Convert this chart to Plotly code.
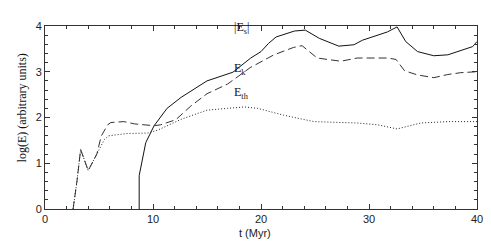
import plotly.graph_objects as go

# |E_s| (solid)
t_s = [8.72, 8.72, 9.33, 10.1, 11.3, 12.6, 13.8, 15.0, 17.4, 19.05, 20.0, 20.7, 21.4, 23.1, 24.1, 25.4, 27.2, 28.6, 29.4, 30.8, 31.7, 32.6, 33.4, 34.5, 36.0, 37.3, 38.8, 39.6, 40]
e_s = [0, 0.73, 1.45, 1.82, 2.2, 2.44, 2.62, 2.8, 2.99, 3.3, 3.44, 3.62, 3.76, 3.89, 3.91, 3.73, 3.56, 3.59, 3.69, 3.81, 3.87, 3.98, 3.66, 3.44, 3.35, 3.37, 3.48, 3.55, 3.66]
# E_k (dashed)
t_k = [2.6, 2.95, 3.3, 4.0, 4.8, 5.2, 5.8, 6.1, 7.3, 8.3, 10.1, 10.7, 12.1, 13.5, 15.0, 16.9, 19.0, 21.2, 23.0, 23.8, 25.2, 27.4, 28.9, 31.7, 32.5, 33.3, 34.5, 36.0, 37.3, 38.5, 40]
e_k = [0, 0.59, 1.3, 0.84, 1.2, 1.59, 1.84, 1.89, 1.91, 1.86, 1.82, 1.84, 1.95, 2.25, 2.52, 2.73, 3.09, 3.37, 3.53, 3.57, 3.3, 3.23, 3.3, 3.3, 3.27, 3.02, 2.93, 2.87, 2.94, 2.98, 3.0]
# E_th (dotted)
t_th = [2.6, 2.95, 3.3, 4.0, 4.8, 5.5, 5.9, 7.6, 9.5, 10.4, 12.6, 15.0, 16.9, 18.5, 19.7, 22.1, 24.9, 28.9, 30.8, 32.6, 34.8, 37.3, 40]
e_th = [0, 0.59, 1.3, 0.84, 1.2, 1.52, 1.6, 1.65, 1.66, 1.72, 1.96, 2.16, 2.2, 2.23, 2.2, 2.05, 1.91, 1.88, 1.84, 1.75, 1.88, 1.91, 1.91]

labels = ["|E<sub>s</sub>|", "E<sub>k</sub>", "E<sub>th</sub>"]
label_t = [17.3, 17.3, 17.3]
label_y = [3.95, 3.07, 2.53]

x_ticks = [0, 10, 20, 30, 40]
y_ticks = [0, 1, 2, 3, 4]

fig = go.Figure()
fig.add_trace(go.Scatter(x=t_s, y=e_s, mode="lines", line=dict(color="#111", width=1)))
fig.add_trace(go.Scatter(x=t_k, y=e_k, mode="lines", line=dict(color="#333", width=1, dash="8px,4px")))
fig.add_trace(go.Scatter(x=t_th, y=e_th, mode="lines", line=dict(color="#222", width=1, dash="1px,2px")))

for txt, tx, ty in zip(labels, label_t, label_y):
    fig.add_annotation(x=tx, y=ty, text=txt, showarrow=False, xanchor="left",
                       font=dict(family="Liberation Serif", size=12, color="#111"))

# axis titles
fig.add_annotation(xref="paper", yref="y", x=-0.053, y=2.2, xanchor="center", yanchor="middle",
                   text="log(E) (arbitrary units)", textangle=-90, showarrow=False,
                   font=dict(family="Liberation Serif", size=12, color="#111"))
fig.add_annotation(xref="x", yref="paper", x=19.4, y=-0.13, xanchor="center", yanchor="middle",
                   text="t (Myr)", showarrow=False,
                   font=dict(family="Liberation Sans", size=11, color="#222"))

axis_common = dict(showline=True, linecolor="#333", linewidth=1, mirror="allticks",
                   ticks="inside", ticklen=5, tickcolor="#333", showgrid=False, zeroline=False,
                   tickfont=dict(family="Liberation Sans", size=11, color="#222"))

fig.update_xaxes(range=[0, 40], tickvals=x_ticks,
                 minor=dict(dtick=2, ticks="inside", ticklen=3, tickcolor="#333"),
                 **axis_common)
fig.update_yaxes(range=[0, 4], tickvals=y_ticks,
                 minor=dict(dtick=0.2, ticks="inside", ticklen=3, tickcolor="#333"),
                 **axis_common)

fig.update_layout(width=491, height=249, showlegend=False,
                  margin=dict(l=37, r=22, t=14, b=48),
                  plot_bgcolor="white", paper_bgcolor="white")

fig.write_html("out.html")
